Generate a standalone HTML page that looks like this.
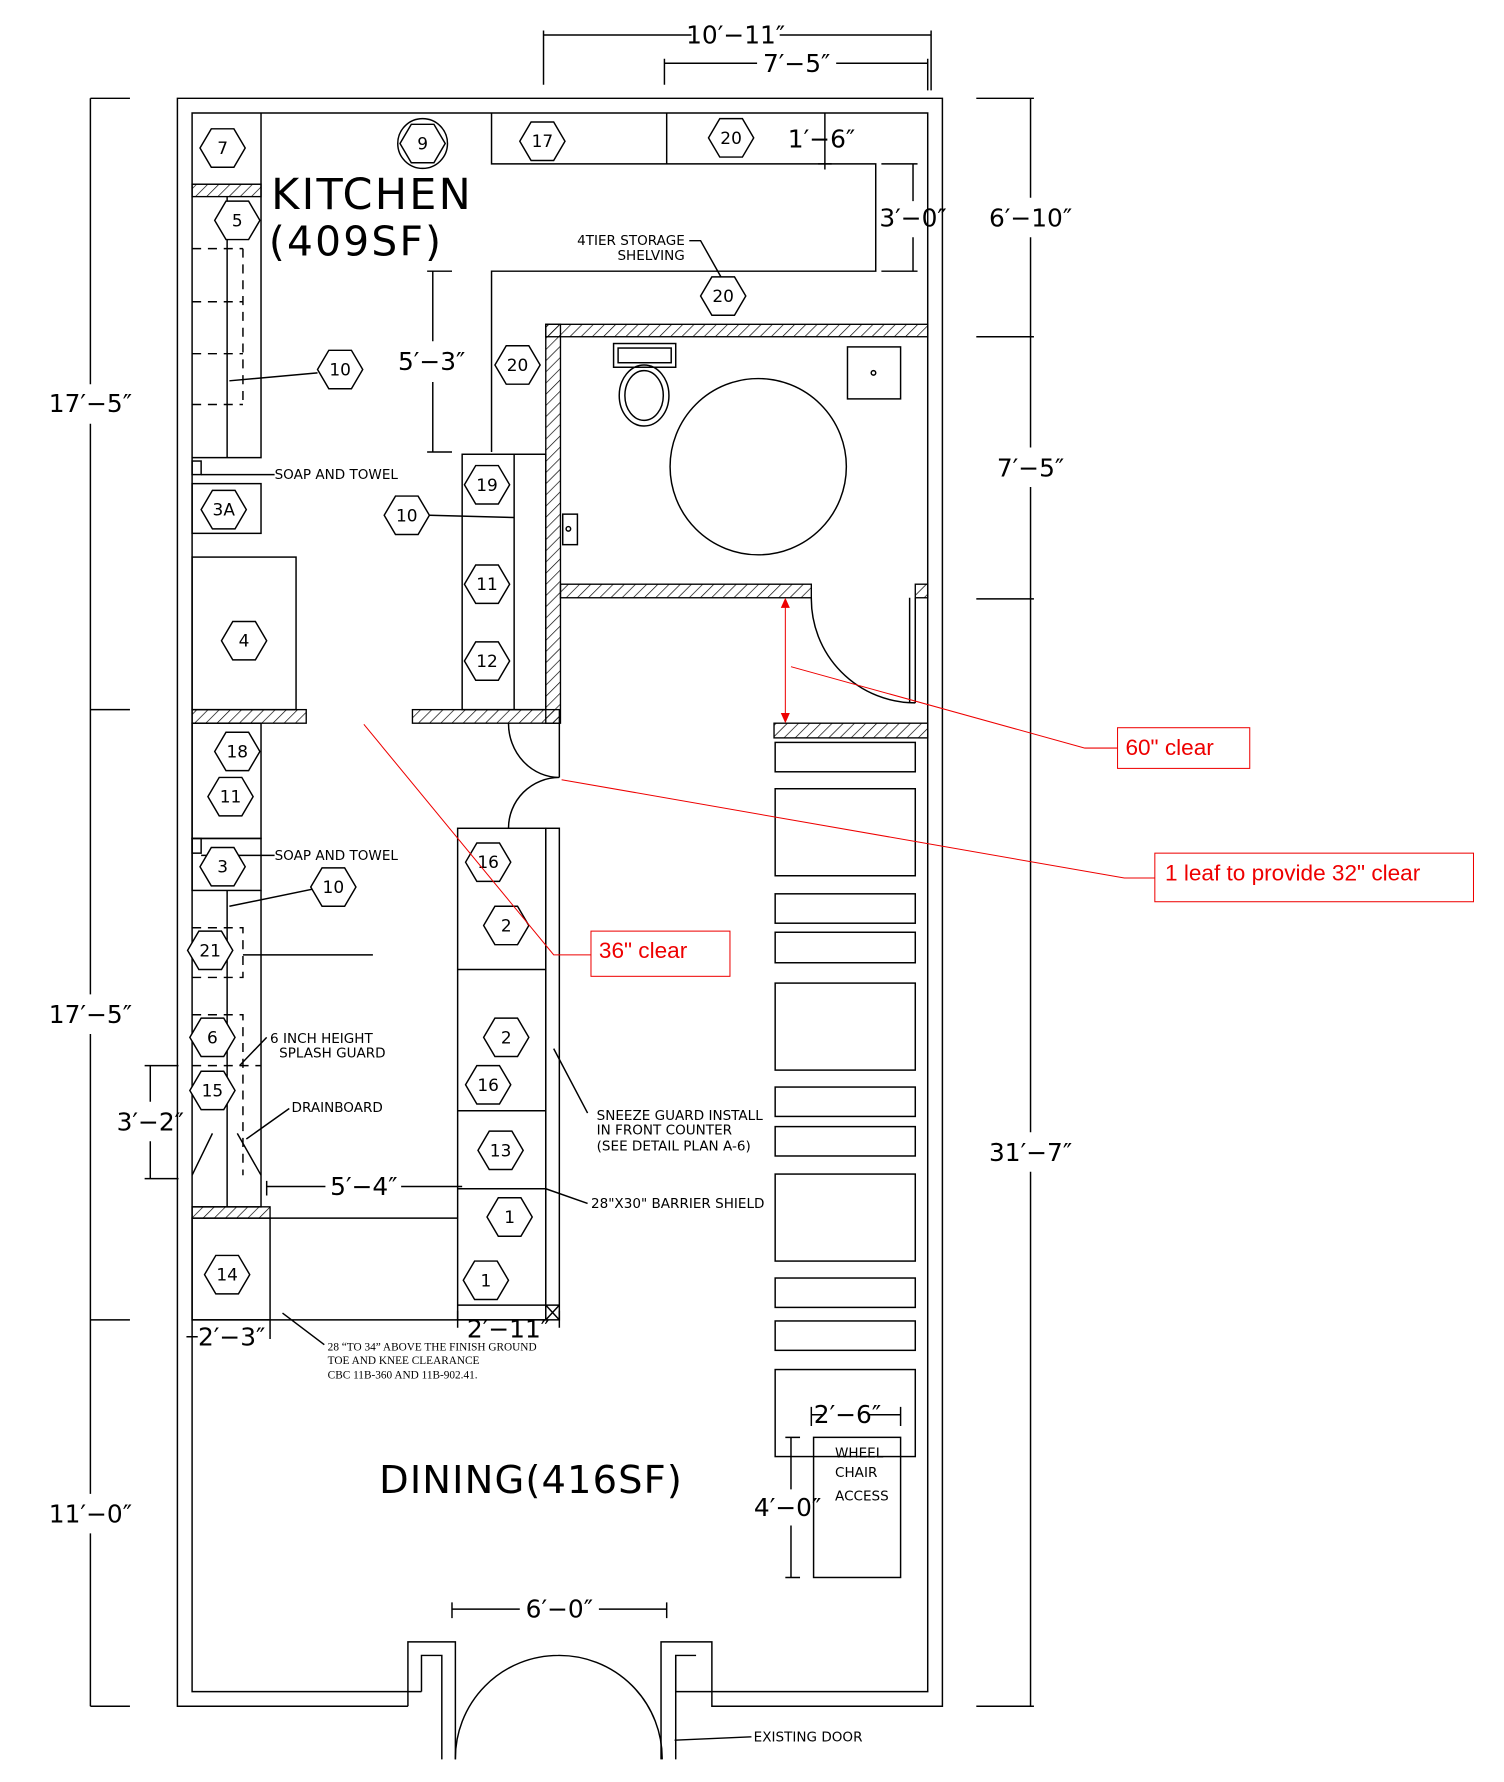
<!DOCTYPE html>
<html><head><meta charset="utf-8"><style>
html,body{margin:0;padding:0;background:#fff;}
svg{display:block;}
text{font-family:"DejaVu Sans","Liberation Sans",sans-serif;fill:#000;}
.n{font-size:15px;text-anchor:middle;dominant-baseline:central;}
.s{font-size:12px;}
.d{font-size:22px;text-anchor:middle;dominant-baseline:central;}
.r{font-family:"Liberation Sans",sans-serif;font-size:20px;fill:#e00;}
</style></head><body>
<svg width="1504" height="1782" viewBox="0 0 1331 1577" preserveAspectRatio="none" xmlns="http://www.w3.org/2000/svg">
<defs>
<pattern id="h" patternUnits="userSpaceOnUse" width="7" height="7" patternTransform="rotate(45)"><line x1="0" y1="0" x2="0" y2="7" stroke="#000" stroke-width="1.2"/></pattern>
<polygon id="hx" points="-20,0 -10,-17 10,-17 20,0 10,17 -10,17" fill="#fff" stroke="#000" stroke-width="1.3"/>
</defs>
<rect width="1331" height="1577" fill="#fff"/>
<g fill="none" stroke="#000" stroke-width="1.3">
<!-- outer walls -->
<path d="M361,1510 H157 V87 H834 V1510 H630 V1453 H585 V1557"/>
<path d="M373,1497 H170 V100 H821 V1497 H598 V1465 H616"/>
<path d="M361,1510 V1453 H403 V1557 M373,1497 V1465 H391 V1557 M598,1465 V1557"/>
<path d="M403,1557 A91,91 0 0 1 494,1465 M586,1557 A91,91 0 0 0 494,1465"/>
<!-- top dims -->
<path d="M481,75 V27 M481,31 H612 M690,31 H824 M824,27 V80 M588,75 V52 M588,56 H670 M740,56 H821 M821,52 V80"/>
<!-- left dims -->
<path d="M80,87 V340 M80,375 V880 M80,915 V1322 M80,1357 V1510 M80,87 H115 M80,628 H115 M80,1168 H115 M80,1510 H115"/>
<!-- right dims -->
<path d="M912,87 V175 M912,210 V396 M912,431 V1002 M912,1037 V1510 M864,87 H915 M864,298 H915 M864,530 H915 M864,1510 H915"/>
<!-- kitchen left column -->
<path d="M231,100 V405 H170 M201,174 V405 M170,163 H231"/>
<path d="M170,220 H215 M170,267 H215 M170,313 H215 M170,358 H215 M215,220 V358" stroke-dasharray="8,6"/>
<rect x="170" y="408" width="8" height="12"/>
<path d="M243,420 H178"/>
<rect x="170" y="428" width="61" height="44"/>
<rect x="170" y="493" width="92" height="135"/>
<!-- top counter / shelving -->
<path d="M435,100 V145 H775 V240 H435 V400 M590,100 V145"/>
<path d="M730,100 V150 M724,145 H736 M780,145 H812 M780,240 H812 M808,145 V178 M808,210 V240"/>
<path d="M610,213 H620 L638,245 M383,240 V302 M383,338 V400 M378,240 H400 M378,400 H400"/>
<path d="M281,330 L203,337 M380,456 L455,458"/>
<rect x="409" y="402" width="74" height="226"/><path d="M455,402 V628"/>
<!-- bathroom -->
<rect x="543" y="304" width="55" height="21"/><rect x="547" y="308" width="47" height="13"/>
<ellipse cx="570" cy="350" rx="22" ry="27"/><ellipse cx="570" cy="350" rx="17" ry="22"/>
<circle cx="671" cy="413" r="78"/>
<rect x="750" y="307" width="47" height="46"/><circle cx="773" cy="330" r="2"/>
<rect x="498" y="455" width="13" height="27"/><circle cx="503" cy="468" r="2"/>
<path d="M718,529 A92,92 0 0 0 810,622 M810,529 V622 M805,529 V622"/>
<!-- hallway door -->
<path d="M450,640 A45,48 0 0 0 495,688 M450,733 A45,45 0 0 1 495,688 M495,640 V688"/>
<!-- tables -->
<rect x="686" y="657" width="124" height="26"/><rect x="686" y="698" width="124" height="77"/>
<rect x="686" y="791" width="124" height="26"/><rect x="686" y="825" width="124" height="27"/>
<rect x="686" y="870" width="124" height="77"/><rect x="686" y="962" width="124" height="26"/>
<rect x="686" y="997" width="124" height="26"/><rect x="686" y="1039" width="124" height="77"/>
<rect x="686" y="1131" width="124" height="26"/><rect x="686" y="1169" width="124" height="26"/>
<rect x="686" y="1212" width="124" height="77"/>
<rect x="720" y="1272" width="77" height="124"/>
<path d="M718,1252 H728 M768,1252 H797 M718,1245 V1262 M797,1245 V1262 M700,1272 V1318 M700,1350 V1396 M695,1272 H708 M695,1396 H708"/>
<!-- lower left -->
<rect x="170" y="640" width="61" height="102"/>
<rect x="170" y="742" width="8" height="13"/><path d="M243,757 H178"/>
<rect x="170" y="742" width="61" height="46"/>
<path d="M231,788 V1068 H170 M201,788 V1068 M215,845 H330 M276,787 L203,802"/>
<path d="M170,821 H215 V865 H170 M170,898 H215 V1040 M170,943 H231" stroke-dasharray="8,6"/>
<path d="M170,1040 L188,1003 M231,1040 L210,1003 M236,918 L212,943 M256,981 L218,1008"/>
<path d="M133,943 V975 M133,1010 V1043 M128,943 H158 M128,1043 H158"/>
<rect x="170" y="1078" width="69" height="90"/>
<path d="M239,1078 H405 M236,1045 V1058 M236,1050 H288 M355,1050 H409"/>
<path d="M170,1168 H483 M165,1183 H175 M239,1168 V1185 M250,1162 L287,1190"/>
<!-- counter -->
<rect x="405" y="733" width="78" height="435"/><rect x="483" y="733" width="12" height="435"/>
<path d="M405,858 H483 M405,983 H483 M405,1052 H483 M405,1155 H495 M483,1052 L520,1065 M490,928 L520,985 M483,1155 L495,1168 M495,1155 L483,1168"/>
<path d="M405,1160 V1175 M495,1160 V1175"/>
<path d="M400,1424 H460 M530,1424 H590 M400,1418 V1432 M590,1418 V1432"/>
<path d="M665,1537 L597,1540"/>
</g>
<!-- hatched walls -->
<g fill="url(#h)" stroke="#000" stroke-width="1.2">
<rect x="170" y="163" width="61" height="11"/>
<rect x="170" y="628" width="101" height="12"/>
<rect x="365" y="628" width="130" height="12"/>
<rect x="483" y="287" width="13" height="353"/>
<rect x="483" y="287" width="338" height="11"/>
<rect x="496" y="517" width="222" height="12"/>
<rect x="810" y="517" width="11" height="12"/>
<rect x="685" y="640" width="136" height="13"/>
<rect x="170" y="1068" width="69" height="10"/>
</g>
<!-- hexes -->
<circle cx="374" cy="127" r="22" fill="none" stroke="#000" stroke-width="1.3"/>
<g>
<use href="#hx" x="197" y="131"/><use href="#hx" x="374" y="127"/><use href="#hx" x="210" y="195"/>
<use href="#hx" x="480" y="125"/><use href="#hx" x="647" y="122"/><use href="#hx" x="640" y="262"/>
<use href="#hx" x="458" y="323"/><use href="#hx" x="301" y="327"/><use href="#hx" x="198" y="451"/>
<use href="#hx" x="431" y="429"/><use href="#hx" x="360" y="456"/><use href="#hx" x="431" y="517"/>
<use href="#hx" x="431" y="585"/><use href="#hx" x="216" y="567"/><use href="#hx" x="210" y="665"/>
<use href="#hx" x="204" y="705"/><use href="#hx" x="197" y="767"/><use href="#hx" x="295" y="785"/>
<use href="#hx" x="186" y="841"/><use href="#hx" x="188" y="918"/><use href="#hx" x="188" y="965"/>
<use href="#hx" x="201" y="1128"/><use href="#hx" x="432" y="763"/><use href="#hx" x="448" y="819"/>
<use href="#hx" x="448" y="918"/><use href="#hx" x="432" y="960"/><use href="#hx" x="443" y="1018"/>
<use href="#hx" x="451" y="1077"/><use href="#hx" x="430" y="1133"/>
</g>
<g class="n">
<text x="197" y="131" class="n">7</text><text x="374" y="127" class="n">9</text><text x="210" y="195" class="n">5</text>
<text x="480" y="125" class="n">17</text><text x="647" y="122" class="n">20</text><text x="640" y="262" class="n">20</text>
<text x="458" y="323" class="n">20</text><text x="301" y="327" class="n">10</text><text x="198" y="451" class="n">3A</text>
<text x="431" y="429" class="n">19</text><text x="360" y="456" class="n">10</text><text x="431" y="517" class="n">11</text>
<text x="431" y="585" class="n">12</text><text x="216" y="567" class="n">4</text><text x="210" y="665" class="n">18</text>
<text x="204" y="705" class="n">11</text><text x="197" y="767" class="n">3</text><text x="295" y="785" class="n">10</text>
<text x="186" y="841" class="n">21</text><text x="188" y="918" class="n">6</text><text x="188" y="965" class="n">15</text>
<text x="201" y="1128" class="n">14</text><text x="432" y="763" class="n">16</text><text x="448" y="819" class="n">2</text>
<text x="448" y="918" class="n">2</text><text x="432" y="960" class="n">16</text><text x="443" y="1018" class="n">13</text>
<text x="451" y="1077" class="n">1</text><text x="430" y="1133" class="n">1</text>
</g>
<!-- dimension text -->
<text class="d" x="651" y="31">10′−11″</text><text class="d" x="705" y="56">7′−5″</text>
<text class="d" x="727" y="123">1′−6″</text><text class="d" x="808" y="193">3′−0″</text>
<text class="d" x="382" y="320">5′−3″</text>
<text class="d" x="80" y="357">17′−5″</text><text class="d" x="80" y="898">17′−5″</text><text class="d" x="80" y="1340">11′−0″</text>
<text class="d" x="912" y="193">6′−10″</text><text class="d" x="912" y="414">7′−5″</text><text class="d" x="912" y="1020">31′−7″</text>
<text class="d" x="133" y="993">3′−2″</text><text class="d" x="322" y="1050">5′−4″</text>
<text class="d" x="205" y="1183">2′−3″</text><text class="d" x="450" y="1176">2′−11″</text>
<text class="d" x="750" y="1252">2′−6″</text><text class="d" x="697" y="1334">4′−0″</text>
<text class="d" x="495" y="1424">6′−0″</text>
<text x="240" y="185" style="font-size:38px;letter-spacing:2px">KITCHEN</text>
<text x="238" y="226" style="font-size:36px;letter-spacing:2px">(409SF)</text>
<text x="470" y="1310" style="font-size:34px;text-anchor:middle;dominant-baseline:central;letter-spacing:1px">DINING(416SF)</text>
<!-- small notes -->
<g class="s">
<text x="606" y="217" text-anchor="end">4TIER STORAGE</text><text x="606" y="230" text-anchor="end">SHELVING</text>
<text x="243" y="424">SOAP AND TOWEL</text><text x="243" y="761">SOAP AND TOWEL</text>
<text x="239" y="923">6 INCH HEIGHT</text><text x="247" y="936">SPLASH GUARD</text>
<text x="258" y="984">DRAINBOARD</text>
<text x="528" y="991">SNEEZE GUARD INSTALL</text><text x="528" y="1004">IN FRONT COUNTER</text><text x="528" y="1018">(SEE DETAIL PLAN A-6)</text>
<text x="523" y="1069">28"X30" BARRIER SHIELD</text>
<text x="739" y="1290">WHEEL</text><text x="739" y="1307">CHAIR</text><text x="739" y="1328">ACCESS</text>
<text x="667" y="1541">EXISTING DOOR</text>
<text x="290" y="1195" style="font-family:'Liberation Serif',serif;font-size:10px">28 “TO 34” ABOVE THE FINISH GROUND</text>
<text x="290" y="1207" style="font-family:'Liberation Serif',serif;font-size:10px">TOE AND KNEE CLEARANCE</text>
<text x="290" y="1220" style="font-family:'Liberation Serif',serif;font-size:10px">CBC 11B-360 AND 11B-902.41.</text>
</g>
<!-- red annotations -->
<g stroke="#e00" fill="none" stroke-width="0.9">
<path d="M695,535 V635"/>
<path d="M700,590 L960,662 H989 M497,690 L995,777 H1022 M322,641 L490,845 H523"/>
<rect x="989" y="644" width="117" height="36"/>
<rect x="1022" y="755" width="282" height="43"/>
<rect x="523" y="824" width="123" height="40"/>
</g>
<g fill="#e00"><polygon points="695,529 691,538 699,538"/><polygon points="695,640 691,631 699,631"/></g>
<text class="r" x="996" y="668">60" clear</text>
<text class="r" x="1031" y="779">1 leaf to provide 32" clear</text>
<text class="r" x="530" y="848">36" clear</text>
</svg>
</body></html>
